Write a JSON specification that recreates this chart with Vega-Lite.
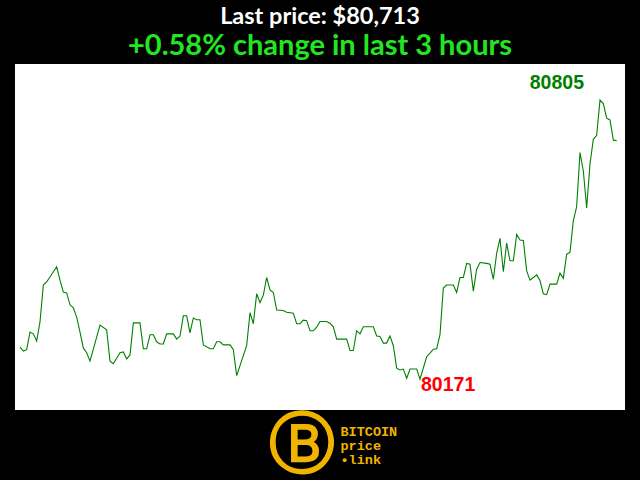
{
  "$schema": "https://vega.github.io/schema/vega-lite/v6.json",
  "width": 610,
  "height": 346,
  "autosize": {"type": "none"},
  "padding": {"left": 15, "top": 64, "right": 15, "bottom": 70},
  "background": "black",
  "view": {"fill": "white", "stroke": null},
  "title": {
    "text": "Last price: $80,713",
    "subtitle": "+0.58% change in last 3 hours",
    "anchor": "middle",
    "color": "white",
    "subtitleColor": "#22e622",
    "font": "Lato",
    "subtitleFont": "Lato",
    "fontSize": 23.5,
    "subtitleFontSize": 29,
    "fontWeight": "bold",
    "subtitleFontWeight": "bold",
    "subtitlePadding": 4,
    "offset": 3
  },
  "data": {
    "values": [
      {"t": 0, "price": 80244}, {"t": 1, "price": 80235}, {"t": 2, "price": 80238}, {"t": 3, "price": 80278},
      {"t": 4, "price": 80274}, {"t": 5, "price": 80258}, {"t": 6, "price": 80301}, {"t": 7, "price": 80385},
      {"t": 8, "price": 80392}, {"t": 9, "price": 80403}, {"t": 10, "price": 80415}, {"t": 11, "price": 80426},
      {"t": 12, "price": 80396}, {"t": 13, "price": 80369}, {"t": 14, "price": 80367}, {"t": 15, "price": 80340},
      {"t": 16, "price": 80333}, {"t": 17, "price": 80312}, {"t": 18, "price": 80278}, {"t": 19, "price": 80242},
      {"t": 20, "price": 80231}, {"t": 21, "price": 80212}, {"t": 24, "price": 80294}, {"t": 26, "price": 80283},
      {"t": 27, "price": 80212}, {"t": 28, "price": 80206}, {"t": 30, "price": 80231}, {"t": 31, "price": 80233},
      {"t": 32, "price": 80217}, {"t": 33, "price": 80226}, {"t": 34, "price": 80299}, {"t": 36, "price": 80299},
      {"t": 37, "price": 80240}, {"t": 38, "price": 80240}, {"t": 39, "price": 80272}, {"t": 40, "price": 80272},
      {"t": 41, "price": 80256}, {"t": 42, "price": 80251}, {"t": 43, "price": 80251}, {"t": 44, "price": 80274},
      {"t": 46, "price": 80274}, {"t": 47, "price": 80262}, {"t": 48, "price": 80269}, {"t": 49, "price": 80315},
      {"t": 50, "price": 80315}, {"t": 51, "price": 80276}, {"t": 52, "price": 80310}, {"t": 53, "price": 80306},
      {"t": 54, "price": 80306}, {"t": 55, "price": 80249}, {"t": 57, "price": 80240}, {"t": 58, "price": 80240},
      {"t": 59, "price": 80256}, {"t": 60, "price": 80256}, {"t": 61, "price": 80249}, {"t": 63, "price": 80249},
      {"t": 64, "price": 80238}, {"t": 65, "price": 80179}, {"t": 68, "price": 80247}, {"t": 69, "price": 80322},
      {"t": 70, "price": 80297}, {"t": 71, "price": 80365}, {"t": 72, "price": 80345}, {"t": 73, "price": 80362},
      {"t": 74, "price": 80402}, {"t": 75, "price": 80374}, {"t": 76, "price": 80368}, {"t": 77, "price": 80328},
      {"t": 79, "price": 80327}, {"t": 80, "price": 80323}, {"t": 82, "price": 80321}, {"t": 83, "price": 80297},
      {"t": 84, "price": 80297}, {"t": 85, "price": 80305}, {"t": 86, "price": 80304}, {"t": 87, "price": 80281},
      {"t": 88, "price": 80281}, {"t": 89, "price": 80289}, {"t": 90, "price": 80302}, {"t": 92, "price": 80302},
      {"t": 93, "price": 80298}, {"t": 94, "price": 80290}, {"t": 95, "price": 80262}, {"t": 98, "price": 80262},
      {"t": 99, "price": 80236}, {"t": 100, "price": 80236}, {"t": 101, "price": 80281}, {"t": 102, "price": 80274},
      {"t": 103, "price": 80290}, {"t": 106, "price": 80290}, {"t": 107, "price": 80269}, {"t": 108, "price": 80268},
      {"t": 109, "price": 80253}, {"t": 110, "price": 80253}, {"t": 111, "price": 80269}, {"t": 112, "price": 80247},
      {"t": 113, "price": 80196}, {"t": 114, "price": 80192}, {"t": 115, "price": 80194}, {"t": 116, "price": 80173},
      {"t": 117, "price": 80194}, {"t": 119, "price": 80194}, {"t": 120, "price": 80171}, {"t": 122, "price": 80222},
      {"t": 123, "price": 80230}, {"t": 124, "price": 80239}, {"t": 125, "price": 80240}, {"t": 126, "price": 80272},
      {"t": 127, "price": 80378}, {"t": 128, "price": 80385}, {"t": 130, "price": 80385}, {"t": 131, "price": 80368},
      {"t": 132, "price": 80402}, {"t": 133, "price": 80402}, {"t": 134, "price": 80434}, {"t": 135, "price": 80432},
      {"t": 136, "price": 80371}, {"t": 137, "price": 80421}, {"t": 138, "price": 80436}, {"t": 140, "price": 80434},
      {"t": 141, "price": 80432}, {"t": 142, "price": 80398}, {"t": 143, "price": 80457}, {"t": 144, "price": 80491},
      {"t": 145, "price": 80415}, {"t": 146, "price": 80480}, {"t": 147, "price": 80440}, {"t": 148, "price": 80440},
      {"t": 149, "price": 80500}, {"t": 150, "price": 80487}, {"t": 151, "price": 80486}, {"t": 152, "price": 80417},
      {"t": 153, "price": 80396}, {"t": 154, "price": 80402}, {"t": 155, "price": 80408}, {"t": 156, "price": 80395},
      {"t": 157, "price": 80365}, {"t": 158, "price": 80363}, {"t": 159, "price": 80387}, {"t": 161, "price": 80387},
      {"t": 162, "price": 80412}, {"t": 163, "price": 80400}, {"t": 164, "price": 80455}, {"t": 165, "price": 80459},
      {"t": 166, "price": 80531}, {"t": 167, "price": 80563}, {"t": 168, "price": 80686}, {"t": 169, "price": 80644},
      {"t": 170, "price": 80560}, {"t": 171, "price": 80660}, {"t": 172, "price": 80716}, {"t": 173, "price": 80725},
      {"t": 174, "price": 80805}, {"t": 175, "price": 80797}, {"t": 176, "price": 80764}, {"t": 177, "price": 80760},
      {"t": 178, "price": 80714}, {"t": 179, "price": 80713}
    ]
  },
  "encoding": {
    "x": {
      "field": "t", "type": "quantitative",
      "scale": {"domain": [-1.5, 181.5], "nice": false, "zero": false},
      "axis": {
        "domain": false, "ticks": false, "labels": false, "grid": false,
        "title": ["BITCOIN", "price", "•link"],
        "titleFont": "Liberation Mono", "titleFontWeight": "bold", "titleFontSize": 13.5,
        "titleColor": "#f0b400", "titleLineHeight": 14,
        "titleAlign": "left", "titleBaseline": "top", "titleAnchor": "start",
        "titleX": 325, "titleY": 14
      }
    },
    "y": {
      "field": "price", "type": "quantitative",
      "scale": {"domain": [80101, 80887], "nice": false, "zero": false},
      "axis": {
        "domain": false, "ticks": false, "labels": false, "grid": false,
        "title": "Ⓑ", "titleAngle": 0, "titleFont": "DejaVu Sans", "titleFontWeight": "bold", "titleFontSize": 66,
        "titleColor": "#f0b400", "titleAlign": "center", "titleBaseline": "middle",
        "titleX": 286, "titleY": 381
      }
    }
  },
  "layer": [
    {"mark": {"type": "line", "color": "#008000", "strokeWidth": 1.1}},
    {
      "transform": [{"filter": "datum.price == 80805"}],
      "mark": {"type": "text", "align": "right", "baseline": "alphabetic", "dx": -16, "dy": -11, "font": "Liberation Sans", "fontWeight": "bold", "fontSize": 19.5, "color": "#008000"},
      "encoding": {"text": {"field": "price", "type": "quantitative", "format": "d"}}
    },
    {
      "transform": [{"filter": "datum.price == 80171"}],
      "mark": {"type": "text", "align": "left", "baseline": "alphabetic", "dx": 1, "dy": 12, "font": "Liberation Sans", "fontWeight": "bold", "fontSize": 19.5, "color": "#ff0000"},
      "encoding": {"text": {"field": "price", "type": "quantitative", "format": "d"}}
    }
  ]
}
